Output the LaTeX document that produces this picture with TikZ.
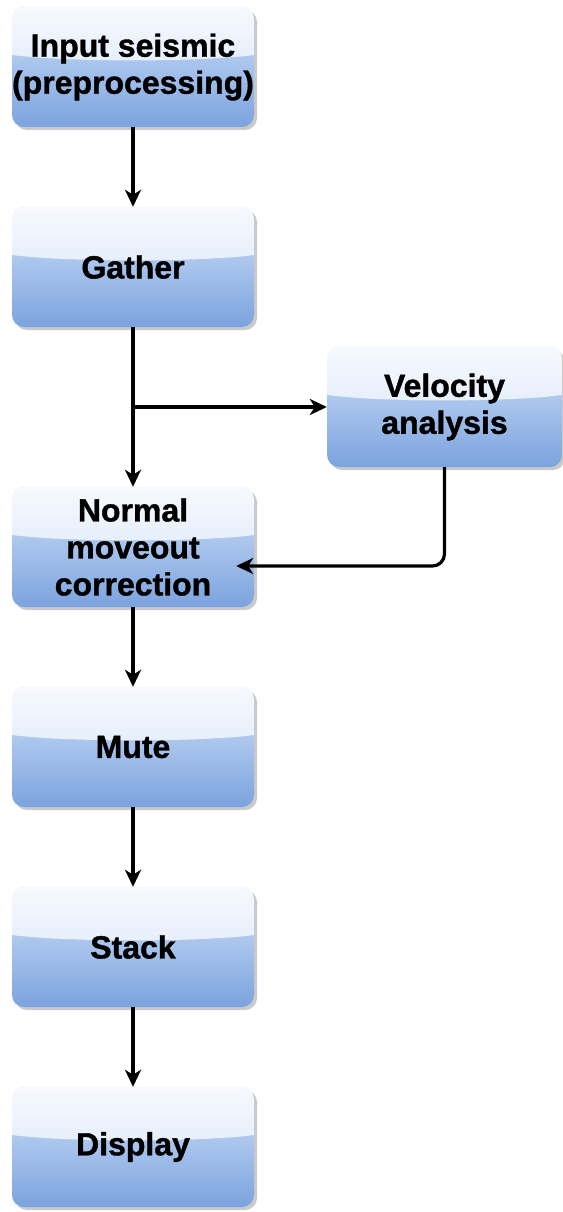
\documentclass[tikz,border=0pt]{standalone}
\usepackage{fontspec}
\setmainfont{Liberation Sans}[BoldFeatures={FakeBold=1.2}]
\usetikzlibrary{arrows.meta,calc,shadows}

\definecolor{boxtop}{HTML}{D2E2FA}
\definecolor{boxbot}{HTML}{7BA3DE}
\definecolor{glasstop}{HTML}{F6F9FE}
\definecolor{glassbot}{HTML}{D5E3F8}

\tikzset{
  stepbox/.style={
    rounded corners=12pt,
    minimum width=242pt, minimum height=120pt, inner sep=0pt,
    top color=boxtop, bottom color=boxbot,
    drop shadow={shadow xshift=3pt, shadow yshift=-3pt, opacity=0.3, fill=black!70},
    align=center,
    font=\fontsize{32}{37}\selectfont\bfseries,
    path picture={
      % glossy highlight over the upper part of the box
      \shade[sharp corners, top color=glasstop, bottom color=glassbot]
        (path picture bounding box.north west) --
        (path picture bounding box.north east) --
        ($(path picture bounding box.north east)!0.40!(path picture bounding box.south east)$)
        .. controls ($(path picture bounding box.north east)!0.46!(path picture bounding box.south)$)
        and ($(path picture bounding box.north west)!0.46!(path picture bounding box.south)$) ..
        ($(path picture bounding box.north west)!0.40!(path picture bounding box.south west)$) -- cycle;
    }
  },
  flow/.style={line width=3.2pt, -{Stealth[length=17pt, width=16pt, inset=5pt]}}
}

\begin{document}
\begin{tikzpicture}[x=1pt, y=-1pt]
  \useasboundingbox (0,0) rectangle (562,1212);

  \node[stepbox] (input)   at (133,67)   {Input seismic\\(preprocessing)};
  \node[stepbox] (gather)  at (133,267)  {Gather};
  \node[stepbox, minimum width=235pt] (vel) at (444.5,407) {Velocity\\analysis};
  \node[stepbox] (nmo)     at (133,547)  {Normal\\moveout\\correction};
  \node[stepbox] (mute)    at (133,747)  {Mute};
  \node[stepbox] (stack)   at (133,947)  {Stack};
  \node[stepbox] (display) at (133,1147) {Display};

  \coordinate (branch) at (gather.south |- vel.west);
  \coordinate (back) at ($(nmo.east)+(-18,19)$);

  \draw[flow] (input) -- (gather);
  \draw[flow] (gather) -- (nmo);
  \draw[flow] (branch) -- (vel.west);
  \draw[flow, rounded corners=12pt] (vel.south) |- (back);
  \draw[flow] (nmo) -- (mute);
  \draw[flow] (mute) -- (stack);
  \draw[flow] (stack) -- (display);
\end{tikzpicture}
\end{document}
